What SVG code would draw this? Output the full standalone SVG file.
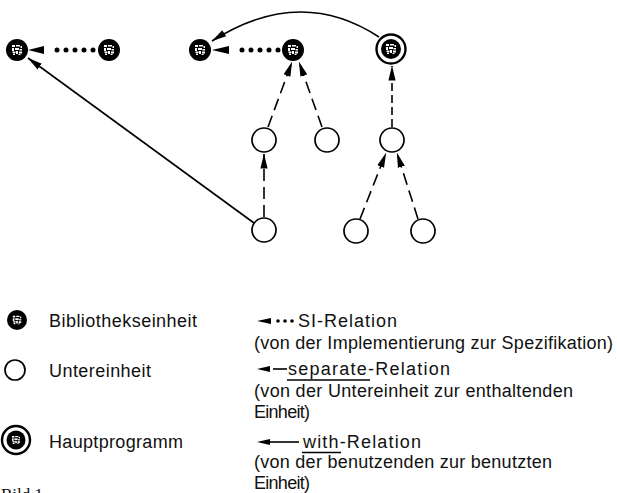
<svg xmlns="http://www.w3.org/2000/svg" width="617" height="493" viewBox="0 0 617 493">
  <style>
    .lib { fill: #000; }
    .sub { fill: #fff; stroke: #000; stroke-width: 1.7; }
    .ring { fill: #fff; stroke: #000; stroke-width: 2.4; }
    .edge { fill: none; stroke: #000; stroke-width: 1.6; }
    .sep { stroke-dasharray: 12 6; }
    .sep-short { stroke-dasharray: 8 4; }
    .dots { fill: none; stroke: #000; stroke-width: 5; stroke-linecap: round; stroke-dasharray: 0 9; }
    .tip { fill: #000; }
    .lbl { font-family: "Liberation Sans", Arial, Helvetica, sans-serif; font-size: 18px; fill: #111; }
    .cap { font-family: "Liberation Serif", "Times New Roman", serif; font-size: 17px; fill: #111; }
  </style>
  <defs>
    <marker id="ah" markerUnits="userSpaceOnUse" markerWidth="15" markerHeight="8" viewBox="0 0 15 8" refX="14.5" refY="4" orient="auto">
      <path d="M0,0.4 L15,4 L0,7.6 z" fill="#000"/>
    </marker>
    <!-- speckled emblem printed inside the black unit discs -->
    <g id="chip" fill="#fff">
      <rect x="-5" y="-5" width="3" height="2"/>
      <rect x="-1" y="-5" width="4" height="1.5"/>
      <rect x="3.5" y="-4" width="1.5" height="2"/>
      <rect x="-5" y="-2" width="2" height="3"/>
      <rect x="-2" y="-2" width="4" height="2"/>
      <rect x="2.5" y="-1" width="2.5" height="1.5"/>
      <rect x="-4.5" y="1.5" width="3" height="1.5"/>
      <rect x="-1" y="1" width="2" height="3"/>
      <rect x="2" y="1.5" width="3" height="2"/>
      <rect x="-4" y="3.5" width="2" height="1.5"/>
      <rect x="1.5" y="4" width="2" height="1"/>
    </g>
  </defs>

  <!-- connectors -->
  <g id="connectors">
    <!-- SI relations (implementation to specification) -->
    <g id="e-si-1">
      <line class="dots" x1="93" y1="50" x2="48" y2="50"/>
      <path class="tip" d="M28,50 L44,46 L44,54 z"/>
    </g>
    <g id="e-si-2">
      <line class="dots" x1="278" y1="50" x2="233" y2="50"/>
      <path class="tip" d="M212,50 L229,46 L229,54 z"/>
    </g>
    <!-- separate relations (subunit to containing unit) -->
    <line id="e-sep-1" class="edge sep" x1="268" y1="127" x2="292" y2="62" marker-end="url(#ah)"/>
    <line id="e-sep-2" class="edge sep" x1="322" y1="127" x2="299" y2="62" marker-end="url(#ah)"/>
    <line id="e-sep-3" class="edge sep" x1="264" y1="217" x2="264" y2="154" marker-end="url(#ah)"/>
    <line id="e-sep-4" class="edge sep-short" x1="392" y1="127" x2="392" y2="66" marker-end="url(#ah)"/>
    <line id="e-sep-5" class="edge sep" x1="360" y1="219" x2="386" y2="153" marker-end="url(#ah)"/>
    <line id="e-sep-6" class="edge sep" x1="418" y1="219" x2="397" y2="153" marker-end="url(#ah)"/>
    <!-- with relations (using unit to used unit) -->
    <line id="e-with-1" class="edge" x1="254" y1="223" x2="28" y2="58" marker-end="url(#ah)"/>
    <path id="e-with-2" class="edge" d="M379,37 Q300,-15 212,41" marker-end="url(#ah)"/>
  </g>

  <!-- library units -->
  <g id="n-lib-a"><circle class="lib" cx="17" cy="50" r="11"/><use href="#chip" x="17" y="50"/></g>
  <g id="n-lib-b"><circle class="lib" cx="109" cy="50" r="11"/><use href="#chip" x="109" y="50"/></g>
  <g id="n-lib-c"><circle class="lib" cx="200" cy="50" r="11"/><use href="#chip" x="200" y="50"/></g>
  <g id="n-lib-d"><circle class="lib" cx="293" cy="50" r="11"/><use href="#chip" x="293" y="50"/></g>

  <!-- main program -->
  <g id="n-main">
    <circle class="ring" cx="391" cy="49" r="14.5"/>
    <circle class="lib" cx="391" cy="49" r="10"/>
    <use href="#chip" x="391" y="49"/>
  </g>

  <!-- subunits -->
  <g id="n-sub-f"><circle class="sub" cx="264" cy="140" r="12"/></g>
  <g id="n-sub-g"><circle class="sub" cx="327" cy="140" r="12"/></g>
  <g id="n-sub-h"><circle class="sub" cx="392" cy="140" r="12"/></g>
  <g id="n-sub-i"><circle class="sub" cx="264" cy="230" r="12"/></g>
  <g id="n-sub-j"><circle class="sub" cx="356" cy="231" r="12"/></g>
  <g id="n-sub-k"><circle class="sub" cx="423" cy="231" r="12"/></g>

  <!-- legend: node kinds -->
  <g id="legend-nodes">
    <g id="key-lib">
      <circle class="lib" cx="17" cy="320" r="10"/>
      <use href="#chip" x="17" y="320" transform="translate(17 320) scale(0.85) translate(-17 -320)"/>
      <text class="lbl" x="49" y="327" textLength="148" lengthAdjust="spacing">Bibliothekseinheit</text>
    </g>
    <g id="key-sub">
      <circle class="sub" cx="15" cy="370" r="10"/>
      <text class="lbl" x="49" y="377" textLength="102" lengthAdjust="spacing">Untereinheit</text>
    </g>
    <g id="key-main">
      <circle class="ring" cx="16" cy="440" r="14"/>
      <circle class="lib" cx="16" cy="440" r="9.5"/>
      <use href="#chip" x="16" y="440" transform="translate(16 440) scale(0.8) translate(-16 -440)"/>
      <text class="lbl" x="49" y="448" textLength="134" lengthAdjust="spacing">Hauptprogramm</text>
    </g>
  </g>

  <!-- legend: relation kinds -->
  <g id="legend-edges">
    <g id="key-si">
      <path class="tip" d="M257,321 L271,318 L271,324 z"/>
      <circle cx="278" cy="321" r="1.8"/>
      <circle cx="285" cy="321" r="1.8"/>
      <circle cx="292" cy="321" r="1.8"/>
      <text class="lbl" x="298" y="327" textLength="99" lengthAdjust="spacing">SI-Relation</text>
      <text class="lbl" x="254" y="349" textLength="359" lengthAdjust="spacing">(von der Implementierung zur Spezifikation)</text>
    </g>
    <g id="key-sep">
      <path class="tip" d="M257,369 L270,366 L270,372 z"/>
      <line x1="273" y1="369" x2="287" y2="369" stroke="#000" stroke-width="1.6"/>
      <text class="lbl" x="288" y="375" textLength="162" lengthAdjust="spacing">separate-Relation</text>
      <line x1="287" y1="380" x2="370" y2="380" stroke="#000" stroke-width="1.3"/>
      <text class="lbl" x="254" y="397" textLength="319" lengthAdjust="spacing">(von der Untereinheit zur enthaltenden</text>
      <text class="lbl" x="254" y="418" textLength="56" lengthAdjust="spacing">Einheit)</text>
    </g>
    <g id="key-with">
      <path class="tip" d="M257,442 L270,439 L270,445 z"/>
      <line x1="268" y1="442" x2="299" y2="442" stroke="#000" stroke-width="1.6"/>
      <text class="lbl" x="303" y="448" textLength="118" lengthAdjust="spacing">with-Relation</text>
      <line x1="302" y1="452.5" x2="341" y2="452.5" stroke="#000" stroke-width="1.3"/>
      <text class="lbl" x="254" y="468" textLength="298" lengthAdjust="spacing">(von der benutzenden zur benutzten</text>
      <text class="lbl" x="254" y="489" textLength="56" lengthAdjust="spacing">Einheit)</text>
    </g>
  </g>

  <!-- figure caption, running off the lower edge -->
  <text class="cap" x="1" y="500">Bild 1</text>
</svg>
